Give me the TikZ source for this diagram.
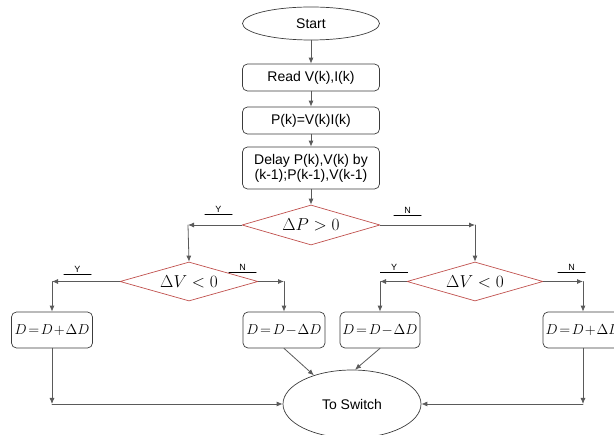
\documentclass[tikz,border=0pt]{standalone}
\usepackage{fontspec}
\setmainfont{Liberation Sans}
\usetikzlibrary{shapes.geometric,arrows.meta}
\definecolor{flowgray}{RGB}{90,90,90}
\definecolor{edgegray}{RGB}{60,60,60}
\definecolor{diared}{RGB}{192,80,77}
\newcommand{\tightmath}{\thickmuskip=2mu\relax\medmuskip=1mu\relax}
\begin{document}
\begin{tikzpicture}[x=1pt,y=-1pt,line cap=round,line join=round,
  every node/.style={font=\fontsize{14}{16}\selectfont},
  term/.style={ellipse,draw=edgegray,line width=0.7pt,minimum width=137pt,minimum height=33pt,inner sep=0pt},
  proc/.style={rectangle,rounded corners=5pt,draw=edgegray,line width=0.7pt,minimum width=137pt,minimum height=27pt,inner sep=0pt,align=center},
  upd/.style={proc,minimum width=81pt,minimum height=36pt,font=\fontsize{14.5}{16}\selectfont},
  test/.style={diamond,aspect=3.45,draw=diared,line width=0.7pt,minimum width=138pt,minimum height=40pt,inner sep=0pt,font=\fontsize{17}{20}\selectfont},
  flow/.style={draw=flowgray,line width=0.8pt,-{Latex[length=6pt,width=5pt]}},
  yn/.style={font=\fontsize{9}{10}\selectfont,anchor=south,minimum width=27pt,inner sep=1.5pt},
  uline/.style={draw=black,line width=0.6pt}]
  \clip (0,0) rectangle (614,435);
  \node[term] (start) at (311,23.5) {Start};
  \node[proc] (read) at (311,77.5) {Read V(k),I(k)};
  \node[proc] (pk) at (311,120.5) {P(k)=V(k)I(k)};
  \node[proc,minimum height=42pt,font=\fontsize{14}{15}\selectfont] (delay) at (311,168) {Delay P(k),V(k) by\\(k-1);P(k-1),V(k-1)};
  \node[test] (dp) at (311,225) {$\Delta P>0$};
  \node[test,minimum height=39pt] (dvl) at (189,281.5) {$\Delta V<0$};
  \node[test,minimum width=136pt,minimum height=39pt] (dvr) at (475,281.5) {$\Delta V<0$};
  \node[upd] (d1) at (52,330) {$\tightmath D=D+\Delta D$};
  \node[upd,minimum width=82pt] (d2) at (284,330) {$\tightmath D=D-\Delta D$};
  \node[upd,minimum width=80pt] (d3) at (380,330) {$\tightmath D=D-\Delta D$};
  \node[upd,minimum width=80pt] (d4) at (583,330) {$\tightmath D=D+\Delta D$};
  \node[term,minimum width=138pt,minimum height=68pt] (sw) at (352,404) {To Switch};
  \coordinate (cy) at (188,225);
  \coordinate (cn) at (475,225);
  \coordinate (cly) at (52,281.5);
  \coordinate (cln) at (284,281.5);
  \coordinate (cry) at (380,281.5);
  \coordinate (crn) at (583,281.5);
  \coordinate (cbl) at (52,404);
  \coordinate (cbr) at (583,404);
  \draw[flow] (start) -- (read);
  \draw[flow] (read) -- (pk);
  \draw[flow] (pk) -- (delay);
  \draw[flow] (delay) -- (dp);
  \draw[flow] (dp.west) -- (cy);
  \draw[flow] (cy) -- (dvl.north);
  \draw[flow] (dp.east) -- (cn);
  \draw[flow] (cn) -- (dvr.north);
  \draw[flow] (dvl.west) -- (cly);
  \draw[flow] (cly) -- (d1.north);
  \draw[flow] (dvl.east) -- (cln);
  \draw[flow] (cln) -- (d2.north);
  \draw[flow] (dvr.west) -- (cry);
  \draw[flow] (cry) -- (d3.north);
  \draw[flow] (dvr.east) -- (crn);
  \draw[flow] (crn) -- (d4.north);
  \draw[flow] (d1.south) -- (cbl);
  \draw[flow] (cbl) -- (sw.west);
  \draw[flow] (d4.south) -- (cbr);
  \draw[flow] (cbr) -- (sw.east);
  \draw[flow] (d2.south) -- (sw.143);
  \draw[flow] (d3.south) -- (sw.85);
  \node[yn] (py) at (218.5,214) {Y};
  \node[yn] (pn) at (407.5,215) {N};
  \node[yn] (ly) at (77.5,274) {Y};
  \node[yn] (ln) at (242.5,272) {N};
  \node[yn] (ry) at (394,272) {Y};
  \node[yn] (rn) at (571.5,272) {N};
  \foreach \lab in {py,pn,ly,ln,ry,rn}
    \draw[uline] (\lab.south west) -- (\lab.south east);
\end{tikzpicture}
\end{document}
